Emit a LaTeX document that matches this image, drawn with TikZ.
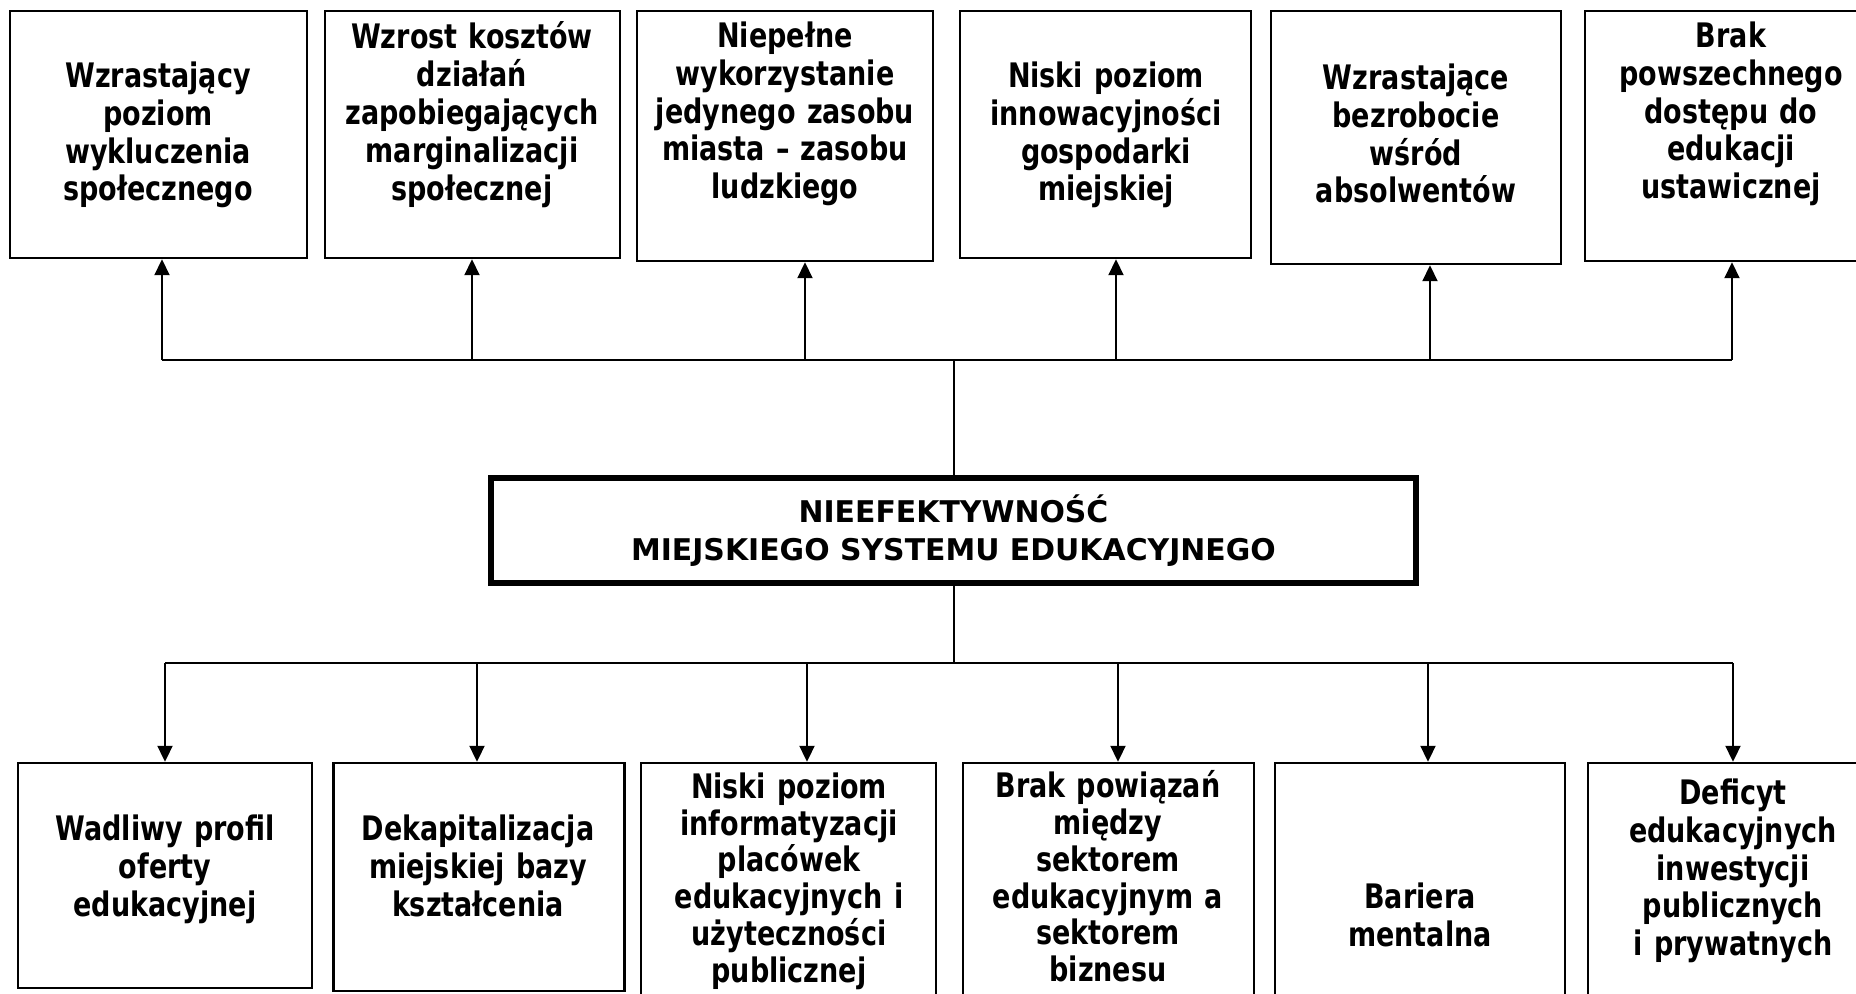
\documentclass[tikz,border=0pt]{standalone}
\usepackage{fontspec}
\setmainfont{DejaVu Sans}
\newfontfamily\waski{DejaVu Sans}[FakeStretch=0.8,BoldFeatures={FakeStretch=0.8}]
\usetikzlibrary{arrows.meta}

\begin{document}
\begin{tikzpicture}[x=0.01cm, y=-0.01cm,
		ramka/.style={draw, line width=0.65pt, inner sep=0pt},
		opis/.style={inner sep=0pt, anchor=north, align=center, text width=2.9cm,
			font=\waski\bfseries\fontsize{9.6}{10.77}\selectfont},
		ciasny/.style={font=\waski\bfseries\fontsize{9.6}{10.45}\selectfont},
		glowny/.style={draw, line width=1.7pt, inner sep=0pt, align=center,
			font=\bfseries\fontsize{8.5}{10.9}\selectfont},
		linia/.style={line width=0.57pt},
		strzalka/.style={line width=0.57pt, -{Triangle[length=0.16cm,width=0.15cm]}}]
		%%%%% START %%%%%
		
		\useasboundingbox (0,0) rectangle (1856,993);
		
		% skutki
		\node[ramka, minimum width=2.97cm, minimum height=2.47cm] (s1) at (158.5,134.5) {};
		\node[ramka, minimum width=2.95cm, minimum height=2.47cm] (s2) at (472.5,134.5) {};
		\node[ramka, minimum width=2.96cm, minimum height=2.50cm] (s3) at (785,136) {};
		\node[ramka, minimum width=2.91cm, minimum height=2.47cm] (s4) at (1105.5,134.5) {};
		\node[ramka, minimum width=2.90cm, minimum height=2.53cm] (s5) at (1416,137.5) {};
		\node[ramka, minimum width=2.93cm, minimum height=2.50cm] (s6) at (1731.5,136) {};
		
		\node[opis] (s1t) at (158,61) {Wzrastający\\poziom\\wykluczenia\\społecznego};
		\node[opis] (s2t) at (472,21) {Wzrost kosztów\\działań\\zapobiegających\\marginalizacji\\społecznej};
		\node[opis] (s3t) at (785,21) {Niepełne\\wykorzystanie\\jedynego zasobu\\miasta – zasobu\\ludzkiego};
		\node[opis] (s4t) at (1106,61) {Niski poziom\\innowacyjności\\gospodarki\\miejskiej};
		\node[opis] (s5t) at (1416,63) {Wzrastające\\bezrobocie\\wśród\\absolwentów};
		\node[opis] (s6t) at (1731,21) {Brak\\powszechnego\\dostępu do\\edukacji\\ustawicznej};
		
		% problem
		\node[glowny, minimum width=9.25cm, minimum height=1.054cm] (problem) at (953.5,530.7)
			{NIEEFEKTYWNOŚĆ\\MIEJSKIEGO SYSTEMU EDUKACYJNEGO};
		
		% przyczyny
		\node[ramka, minimum width=2.94cm, minimum height=2.25cm] (p1) at (165,875.5) {};
		\node[ramka, minimum width=2.91cm, minimum height=2.28cm] (p2) at (479,877) {};
		\node[ramka, minimum width=2.95cm, minimum height=2.34cm] (p3) at (788.5,880) {};
		\node[ramka, minimum width=2.91cm, minimum height=2.34cm] (p4) at (1108.5,880) {};
		\node[ramka, minimum width=2.90cm, minimum height=2.34cm] (p5) at (1420,880) {};
		\node[ramka, minimum width=2.90cm, minimum height=2.34cm] (p6) at (1733,880) {};
		
		\node[opis] (p1t) at (165,814) {Wadliwy profil\\oferty\\edukacyjnej};
		\node[opis] (p2t) at (478,814) {Dekapitalizacja\\miejskiej bazy\\kształcenia};
		\node[opis, ciasny] (p3t) at (789,772) {Niski poziom\\informatyzacji\\placówek\\edukacyjnych i\\użyteczności\\publicznej};
		\node[opis, ciasny] (p4t) at (1108,770) {Brak powiązań\\między\\sektorem\\edukacyjnym a\\sektorem\\biznesu};
		\node[opis] (p5t) at (1420,882) {Bariera\\mentalna};
		\node[opis] (p6t) at (1733,778) {Deficyt\\edukacyjnych\\inwestycji\\publicznych\\i prywatnych};
		
		% polaczenia
		\coordinate (g1) at (162,360);
		\coordinate (g2) at (472,360);
		\coordinate (g3) at (805,360);
		\coordinate (g4) at (1116,360);
		\coordinate (g5) at (1430,360);
		\coordinate (g6) at (1732,360);
		
		\coordinate (h1) at (165,663);
		\coordinate (h2) at (477,663);
		\coordinate (h3) at (807,663);
		\coordinate (h4) at (1118,663);
		\coordinate (h5) at (1428,663);
		\coordinate (h6) at (1733,663);
		
		\draw[linia] (problem.north) -- (problem.north |- g1);
		\draw[linia] (g1) -- (g6);
		\foreach \i in {1,...,6}
			\draw[strzalka] (g\i) -- (g\i |- s\i.south);
		
		\draw[linia] (problem.south) -- (problem.south |- h1);
		\draw[linia] (h1) -- (h6);
		\foreach \i in {1,...,6}
			\draw[strzalka] (h\i) -- (h\i |- p\i.north);
		
		%%%%% END %%%%%
\end{tikzpicture}
\end{document}
